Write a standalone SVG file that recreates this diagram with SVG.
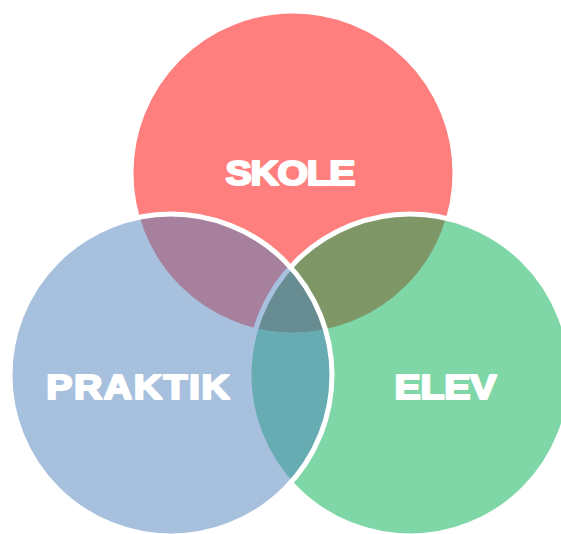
<svg xmlns="http://www.w3.org/2000/svg" width="561" height="534" viewBox="0 0 561 534">
  <style>
    .set { stroke: #ffffff; stroke-width: 5; fill-opacity: 0.5; }
    .label { font-family: "Liberation Sans", Arial, sans-serif; font-weight: bold; font-size: 35px; fill: #ffffff; stroke: #ffffff; stroke-width: 2.2; stroke-linejoin: round; text-anchor: middle; }
  </style>
  <rect width="561" height="534" fill="#ffffff"/>
  <g id="skole">
    <circle class="set" cx="293" cy="173" r="162" fill="#ff0000"/>
  </g>
  <g id="elev">
    <circle class="set" cx="410" cy="375" r="161" fill="#00b050"/>
  </g>
  <g id="praktik">
    <circle class="set" cx="171" cy="375" r="161" fill="#4f81bd"/>
  </g>
  <g id="labels">
    <text class="label" transform="translate(290.5 185) scale(1.12 1)" x="0" y="0" textLength="116" lengthAdjust="spacing">SKOLE</text>
    <text class="label" transform="translate(138 398.5) scale(1.12 1)" x="0" y="0" textLength="164" lengthAdjust="spacing">PRAKTIK</text>
    <text class="label" transform="translate(445.5 398.5) scale(1.12 1)" x="0" y="0" textLength="91" lengthAdjust="spacing">ELEV</text>
  </g>
</svg>
